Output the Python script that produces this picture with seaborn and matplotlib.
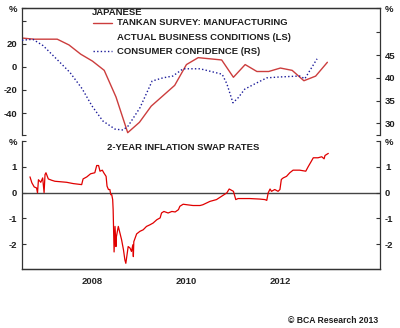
import numpy as np
import pandas as pd
import matplotlib
matplotlib.use('Agg')
import matplotlib.pyplot as plt
import seaborn as sns

# Tankan manufacturing, actual business conditions (quarter ends, decimal year)
tankan_t = [2007.0, 2007.25, 2007.5, 2007.75, 2008.0, 2008.25, 2008.5, 2008.75,
            2009.0, 2009.25, 2009.5, 2009.75, 2010.0, 2010.25, 2010.5, 2010.75,
            2011.0, 2011.25, 2011.5, 2011.75, 2012.0, 2012.25, 2012.5, 2012.75,
            2013.0, 2013.25, 2013.5]
tankan_v = [25, 24, 24, 24, 19, 11, 5, -3,
            -26, -57, -48, -34, -25, -16, 2, 8,
            7, 6, -9, 2, -4, -4, -1, -3,
            -12, -8, 4]

# consumer confidence (right scale)
conf_t = [2007.0, 2007.23, 2007.45, 2007.77, 2008.02, 2008.28, 2008.49, 2008.72,
          2008.98, 2009.15, 2009.26, 2009.51, 2009.77, 2010.0, 2010.21, 2010.43,
          2010.79, 2011.26, 2011.36, 2011.49, 2011.6, 2011.74, 2011.96, 2012.21,
          2012.49, 2012.91, 2013.02, 2013.28]
conf_v = [48.3, 48.5, 47.1, 43.8, 41.2, 37.6, 33.8, 30.5,
          28.7, 28.5, 29.4, 33.4, 39.3, 40.0, 40.4, 42.0,
          42.0, 40.8, 38.7, 34.5, 35.6, 37.5, 38.7, 40.0,
          40.2, 40.4, 39.8, 44.2]

# 2-year inflation swap rate
swap_t = [2007.17, 2007.21, 2007.26, 2007.31, 2007.33, 2007.35, 2007.4, 2007.44,
          2007.47, 2007.49, 2007.51, 2007.56, 2007.63, 2007.7, 2007.95, 2008.09,
          2008.27, 2008.3, 2008.38, 2008.46, 2008.55, 2008.59, 2008.63, 2008.66,
          2008.71, 2008.74, 2008.79, 2008.81, 2008.84, 2008.87, 2008.89, 2008.91,
          2008.93, 2008.94, 2008.96, 2008.98, 2009.0, 2009.01, 2009.05, 2009.12,
          2009.16, 2009.19, 2009.21, 2009.24, 2009.26, 2009.3, 2009.33, 2009.36,
          2009.37, 2009.38, 2009.44, 2009.51, 2009.58, 2009.65, 2009.72, 2009.79,
          2009.87, 2009.94, 2009.97, 2010.02, 2010.11, 2010.19, 2010.26, 2010.33,
          2010.36, 2010.43, 2010.51, 2010.64, 2010.79, 2010.85, 2011.0, 2011.14,
          2011.25, 2011.36, 2011.41, 2011.46, 2011.5, 2011.55, 2011.6, 2011.85,
          2012.06, 2012.17, 2012.21, 2012.24, 2012.28, 2012.31, 2012.38, 2012.45,
          2012.49, 2012.52, 2012.56, 2012.63, 2012.7, 2012.77, 2012.91, 2013.04,
          2013.09, 2013.16, 2013.2, 2013.3, 2013.38, 2013.43, 2013.45, 2013.52]
swap_v = [0.61, 0.38, 0.22, 0.18, -0.01, 0.5, 0.4, 0.57,
          0.0, 0.7, 0.77, 0.53, 0.48, 0.44, 0.4, 0.35,
          0.31, 0.53, 0.61, 0.73, 0.77, 1.05, 1.05, 0.83,
          0.87, 0.77, 0.63, 0.25, 0.12, 0.12, -0.08, -0.08,
          -0.27, -0.66, -2.3, -1.31, -2.09, -1.7, -1.31, -1.83,
          -2.22, -2.61, -2.74, -2.35, -2.09, -2.15, -2.28, -2.02,
          -2.48, -1.9, -1.6, -1.5, -1.44, -1.31, -1.25, -1.18,
          -1.05, -0.98, -0.79, -0.73, -0.79, -0.73, -0.75, -0.66,
          -0.53, -0.45, -0.47, -0.5, -0.5, -0.47, -0.34, -0.27,
          -0.14, -0.01, 0.14, 0.09, 0.05, -0.27, -0.23, -0.23,
          -0.25, -0.27, -0.3, -0.01, 0.14, 0.05, 0.12, 0.05,
          0.12, 0.51, 0.57, 0.63, 0.77, 0.87, 0.87, 0.83,
          1.0, 1.22, 1.35, 1.35, 1.39, 1.31, 1.44, 1.52]

sns.set_style('white')
plt.rcParams['font.family'] = ['Liberation Sans', 'DejaVu Sans']
plt.rcParams['font.weight'] = 'bold'

ink = '#1e1e1e'
fs = 6.8

fig = plt.figure(figsize=(4, 3.28), dpi=100)
top = fig.add_axes([0.055, 0.5884, 0.895, 0.3872])
topr = top.twinx()
bot = fig.add_axes([0.055, 0.1799, 0.895, 0.3902])
botr = bot.twinx()

sns.lineplot(x=tankan_t, y=tankan_v, ax=top, color='#cc3d3d', linewidth=1.0,
             estimator=None, sort=False, legend=False)
sns.lineplot(x=conf_t, y=conf_v, ax=topr, color='#1c1c9a', linewidth=1.0,
             linestyle=(0, (1, 1.6)), estimator=None, sort=False, legend=False)
bot.axhline(0, color='#444444', linewidth=1.0, zorder=1)
sns.lineplot(x=swap_t, y=swap_v, ax=bot, color='#e00000', linewidth=0.9,
             estimator=None, sort=False, legend=False, zorder=3)

xlim = (2007.0, 2014.62)
for a in (top, topr, bot, botr):
    a.set_xlim(*xlim)
    a.set_xlabel('')
    a.set_ylabel('')
    for s in a.spines.values():
        s.set_color('#333333')
        s.set_linewidth(0.9)
    a.tick_params(direction='in', length=3, width=0.8, labelsize=fs,
                  labelcolor=ink, colors='#333333', pad=3.5)

# top panel
top.set_ylim(-59, 51)
top.set_yticks([-59, -40, -20, 0, 20, 40, 51])
top.set_yticklabels(['', '-40', '-20', '0', '20', '', '%'])
topr.set_ylim(27.4, 55.4)
topr.set_yticks([27.4, 30, 35, 40, 45, 50, 55.4])
topr.set_yticklabels(['', '30', '35', '40', '45', '', '%'])
for a in (top, topr):
    a.spines['bottom'].set_visible(False)
    a.tick_params(axis='x', bottom=False, labelbottom=False, top=False)
top.spines['right'].set_visible(False)
topr.spines['left'].set_visible(False)

# bottom panel
bot.set_ylim(-2.96, 2.0)
botr.set_ylim(-2.96, 2.0)
for a in (bot, botr):
    a.set_yticks([-2, -1, 0, 1, 2])
    a.set_yticklabels(['-2', '-1', '0', '1', '%'])
    a.spines['top'].set_visible(False)
bot.spines['right'].set_visible(False)
botr.spines['left'].set_visible(False)
botr.tick_params(axis='x', bottom=False, labelbottom=False)
bot.set_xticks(list(range(2008, 2015)))
bot.set_xticklabels([])
bot.set_xticks([2008.5, 2010.5, 2012.5], minor=True)
bot.set_xticklabels(['2008', '2010', '2012'], minor=True)
bot.tick_params(axis='x', which='major', direction='in', length=5, width=0.8)
bot.tick_params(axis='x', which='minor', length=0, pad=6, labelsize=fs)

# legend block
top.text(0.196, 0.961, 'JAPANESE', transform=top.transAxes, fontsize=fs,
         color=ink, va='center', ha='left')
top.plot([0.198, 0.251], [0.882, 0.882], transform=top.transAxes,
         color='#cc3d3d', linewidth=1.0)
top.text(0.265, 0.882, 'TANKAN SURVEY: MANUFACTURING', transform=top.transAxes,
         fontsize=fs, color=ink, va='center', ha='left')
top.text(0.265, 0.764, 'ACTUAL BUSINESS CONDITIONS (LS)', transform=top.transAxes,
         fontsize=fs, color=ink, va='center', ha='left')
top.plot([0.198, 0.251], [0.665, 0.665], transform=top.transAxes,
         color='#1c1c9a', linewidth=1.0, linestyle=(0, (1, 1.6)))
top.text(0.265, 0.657, 'CONSUMER CONFIDENCE (RS)', transform=top.transAxes,
         fontsize=fs, color=ink, va='center', ha='left')

bot.text(0.237, 0.953, '2-YEAR INFLATION SWAP RATES', transform=bot.transAxes,
         fontsize=fs, color=ink, va='center', ha='left')

fig.text(0.945, 0.024, '\u00a9 BCA Research 2013', fontsize=6.2, color=ink,
         ha='right', va='center')

fig.savefig('out.png', dpi=100)
